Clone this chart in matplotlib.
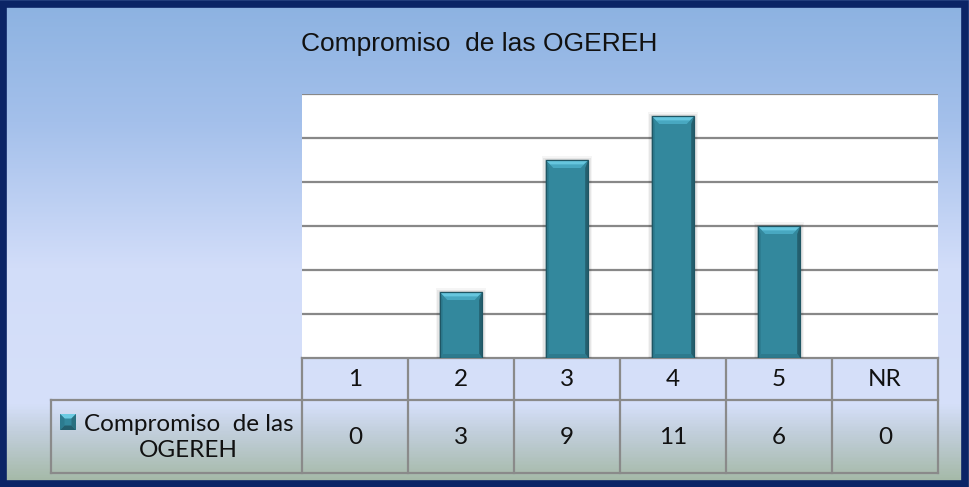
import numpy as np
import matplotlib
matplotlib.use("Agg")
import matplotlib.pyplot as plt
from matplotlib.colors import LinearSegmentedColormap
from matplotlib.patches import Polygon, Rectangle

# ---- data ----
categories = ["1", "2", "3", "4", "5", "NR"]
values = [0, 3, 9, 11, 6, 0]
series_name = "Compromiso  de las\nOGEREH"
title = "Compromiso  de las OGEREH"
y_max = 12
y_step = 2

W, H = 969, 487
fig = plt.figure(figsize=(W / 100, H / 100), dpi=100)

# ---- background (pixel coordinate axes) ----
bg = fig.add_axes([0, 0, 1, 1])
bg.set_xlim(0, W)
bg.set_ylim(H, 0)
bg.axis("off")
cmap = LinearSegmentedColormap.from_list(
    "bg",
    [(0.0, "#8cb2e1"), (0.25, "#a4c0eb"), (0.55, "#d2ddf9"),
     (0.83, "#d6e0fa"), (0.89, "#c2cfdc"), (1.0, "#a2b7a2")])
grad = np.linspace(0, 1, 400).reshape(-1, 1)
bg.imshow(grad, aspect="auto", cmap=cmap, extent=[0, W, H, 0], zorder=0)
bg.add_patch(Rectangle((3.5, 3.5), W - 7, H - 7, fill=False,
                       edgecolor="#0b2466", lw=5.5, zorder=5))

# layout (pixels)
pl, pr, pt, pb = 302, 938, 94, 358
row_mid = 400
tb = 473
label_left = 51

bg.text(479, 44, title, ha="center", va="center", fontsize=19,
        family="Liberation Sans", color="#111111", zorder=6)

# ---- plot area ----
ax = fig.add_axes([pl / W, (H - pb) / H, (pr - pl) / W, (pb - pt) / H])
ax.set_facecolor("white")
n = len(categories)
ax.set_xlim(0, n)
ax.set_ylim(0, y_max)
ax.set_yticks(np.arange(0, y_max + 1, y_step))
ax.set_xticks([])
ax.tick_params(left=False, labelleft=False)
for s in ax.spines.values():
    s.set_visible(False)
ax.grid(axis="y", color="#888888", lw=1.6, zorder=1)
ax.set_axisbelow(True)

x = np.arange(n) + 0.5
bw = 0.4
ppx = (pr - pl) / n      # pixels per x unit
ppy = (pb - pt) / y_max  # pixels per y unit
bx, by = 3.0 / ppx, 8.0 / ppy

bars = ax.bar(x, values, width=bw, color="#33889d", lw=0, zorder=3)
for rect, v in zip(bars, values):
    if v <= 0:
        continue
    x0 = rect.get_x()
    x1 = x0 + rect.get_width()
    # soft shadow
    for k, a in [(4, 0.04), (2.5, 0.06), (1.2, 0.08)]:
        ax.add_patch(Rectangle((x0 - k / ppx, -k / ppy), (x1 - x0) + 2 * k / ppx,
                               v + 2 * k / ppy, color="black", alpha=a, lw=0, zorder=2))
    top = [(x0, v), (x1, v), (x1 - 2.5 * bx, v - by), (x0 + 2.5 * bx, v - by)]
    top_hi = [(x0, v), (x1, v), (x1 - 1.5 * bx, v - by * 0.55), (x0 + 1.5 * bx, v - by * 0.55)]
    left = [(x0, 0), (x0, v), (x0 + bx, v - by), (x0 + bx, by * 0.5)]
    right = [(x1, 0), (x1, v), (x1 - bx, v - by), (x1 - bx, by * 0.5)]
    bottom = [(x0, 0), (x1, 0), (x1 - bx, by * 0.5), (x0 + bx, by * 0.5)]
    ax.add_patch(Polygon(top, closed=True, color="#48a8c1", lw=0, zorder=4))
    ax.add_patch(Polygon(top_hi, closed=True, color="#66c6de", lw=0, zorder=4))
    ax.add_patch(Polygon(left, closed=True, color="#2c7b8f", lw=0, zorder=4))
    ax.add_patch(Polygon(right, closed=True, color="#245f6e", lw=0, zorder=4))
    ax.add_patch(Polygon(bottom, closed=True, color="#2d7a8d", lw=0, zorder=4))
    ax.add_patch(Rectangle((x0, 0), x1 - x0, v, fill=False, edgecolor="#1f5664",
                           lw=0.9, zorder=5))

# ---- data table ----
col_edges = np.linspace(pl, pr, n + 1)
lc = "#8a8a8a"
lw = 1.6
bg.plot([pl, pr], [pb, pb], color=lc, lw=lw, zorder=6)
bg.plot([label_left, pr], [row_mid, row_mid], color=lc, lw=lw, zorder=6)
bg.plot([label_left, pr], [tb, tb], color=lc, lw=lw, zorder=6)
for xe in col_edges:
    bg.plot([xe, xe], [pb, tb], color=lc, lw=lw, zorder=6)
bg.plot([label_left, label_left], [row_mid, tb], color=lc, lw=lw, zorder=6)

tfont = dict(family=["Lato", "DejaVu Sans"], fontsize=17.5, color="#111111", zorder=7)
centers = (col_edges[:-1] + col_edges[1:]) / 2
for cx, c, v in zip(centers, categories, values):
    bg.text(cx, (pb + row_mid) / 2 + 1, c, ha="center", va="center", **tfont)
    bg.text(cx, (row_mid + tb) / 2 + 1, str(v), ha="center", va="center", **tfont)

# legend key
kx, ky, ks = 60, 414, 16
bg.add_patch(Rectangle((kx, ky), ks, ks, color="#33889d", lw=0, zorder=7))
kb = 4.5
bg.add_patch(Polygon([(kx, ky), (kx + ks, ky), (kx + ks - kb, ky + kb), (kx + kb, ky + kb)],
                     color="#6ccbe2", lw=0, zorder=8))
bg.add_patch(Polygon([(kx, ky + ks), (kx + ks, ky + ks), (kx + ks - kb, ky + ks - kb),
                      (kx + kb, ky + ks - kb)], color="#245f6e", lw=0, zorder=8))
bg.add_patch(Polygon([(kx, ky), (kx, ky + ks), (kx + kb, ky + ks - kb), (kx + kb, ky + kb)],
                     color="#2c7b8f", lw=0, zorder=8))
bg.add_patch(Polygon([(kx + ks, ky), (kx + ks, ky + ks), (kx + ks - kb, ky + ks - kb),
                      (kx + ks - kb, ky + kb)], color="#2a7080", lw=0, zorder=8))
bg.text(188.5, (row_mid + tb) / 2 + 1, series_name, ha="center", va="center",
        multialignment="center", linespacing=1.25, **tfont)

fig.savefig("out.png", dpi=100)
